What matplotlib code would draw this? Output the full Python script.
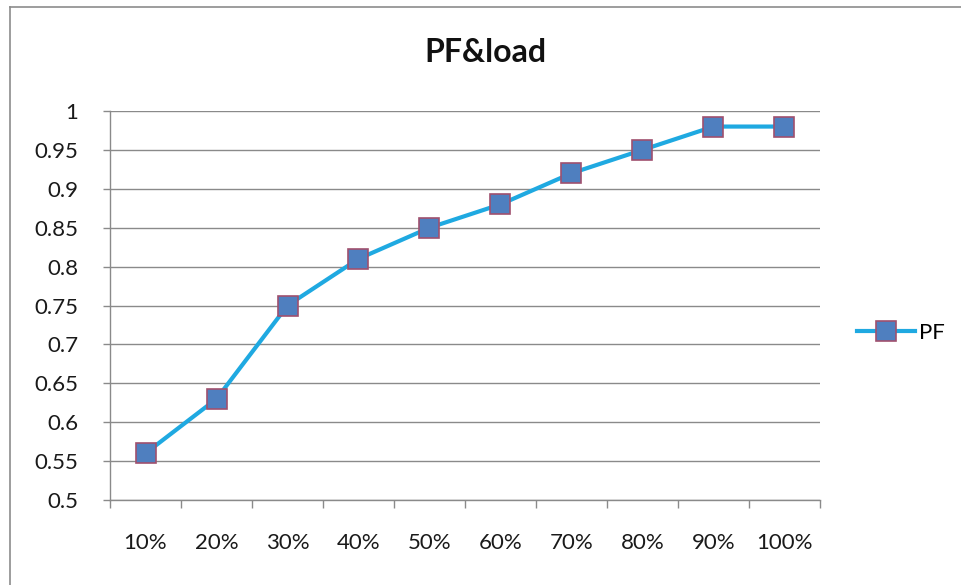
import matplotlib
matplotlib.use("Agg")
import matplotlib.pyplot as plt
from matplotlib.lines import Line2D
import numpy as np

categories = ["10%", "20%", "30%", "40%", "50%", "60%", "70%", "80%", "90%", "100%"]
pf_values = [0.56, 0.63, 0.75, 0.81, 0.85, 0.88, 0.92, 0.95, 0.98, 0.98]
y_ticks = [0.5, 0.55, 0.6, 0.65, 0.7, 0.75, 0.8, 0.85, 0.9, 0.95, 1.0]
y_labels = ["0.5", "0.55", "0.6", "0.65", "0.7", "0.75", "0.8", "0.85", "0.9", "0.95", "1"]

plt.rcParams['font.family'] = ['Lato', 'DejaVu Sans']

W, H = 962, 585
fig = plt.figure(figsize=(W / 100, H / 100), dpi=100)
ax = fig.add_axes([110 / W, 1 - 500 / H, (820 - 110) / W, (500 - 111) / H])

x = np.arange(len(categories))
line, = ax.plot(x, pf_values, color="#1fa9e1", linewidth=3, marker="s",
                markersize=14.5, markerfacecolor="#4f7fbf", markeredgecolor="#a0506e",
                markeredgewidth=1.2, label="PF", zorder=3)

ax.set_xlim(-0.5, len(categories) - 0.5)
ax.set_ylim(0.5, 1.0)
ax.set_yticks(y_ticks)
ax.set_yticklabels(y_labels)
ax.set_xticks(x)
ax.set_xticklabels(categories)
ax.set_xticks(np.arange(-0.5, len(categories)), minor=True)

grid_c = "#8a8a8a"
ax.grid(axis="y", color=grid_c, linewidth=1.0, zorder=0)
ax.set_axisbelow(True)
for s in ["top", "right"]:
    ax.spines[s].set_visible(False)
for s in ["left", "bottom"]:
    ax.spines[s].set_color(grid_c)
    ax.spines[s].set_linewidth(1.0)

fs = 16
ax.tick_params(axis="x", which="major", length=0, pad=24, labelsize=fs, labelcolor="#1a1a1a")
ax.tick_params(axis="x", which="minor", length=6, width=1, color=grid_c)
ax.tick_params(axis="y", length=5, width=1, color=grid_c, pad=18, labelsize=fs, labelcolor="#1a1a1a")

fig.text(485 / W, 1 - 53 / H, "PF&load", ha="center", va="center",
         fontsize=23, fontweight="bold", color="#111111")

fig.legend(handles=[line], labels=["PF"], loc="center left",
           bbox_to_anchor=(857 / W, 1 - 333 / H), frameon=False,
           fontsize=fs, handlelength=2.6, handletextpad=0.2, borderpad=0,
           borderaxespad=0)

bc = "#8c8c8c"
fig.add_artist(Line2D([10 / W, 10 / W], [0, 1 - 7 / H], color=bc, linewidth=1.2, transform=fig.transFigure))
fig.add_artist(Line2D([10 / W, 1], [1 - 7 / H, 1 - 7 / H], color=bc, linewidth=1.2, transform=fig.transFigure))

fig.savefig("out.png", dpi=100)
